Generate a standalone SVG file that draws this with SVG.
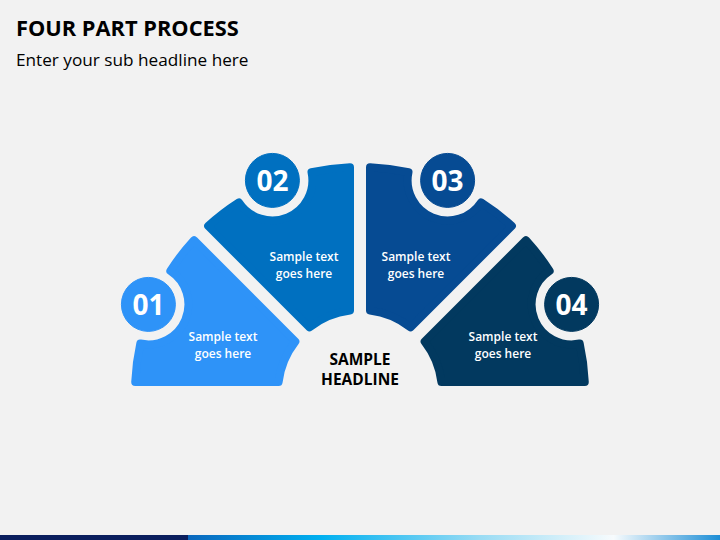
<svg xmlns="http://www.w3.org/2000/svg" width="720" height="540" viewBox="0 0 720 540">
  <defs>
    <linearGradient id="barGrad" x1="0" y1="0" x2="1" y2="0">
      <stop offset="0" stop-color="#0A67BD"/>
      <stop offset="0.25" stop-color="#00B0F0"/>
      <stop offset="0.55" stop-color="#9ADCF4"/>
      <stop offset="0.8" stop-color="#F7FBFD"/>
      <stop offset="1" stop-color="#1C8ED6"/>
    </linearGradient>
    <style>
      .title { font-family: "Open Sans", "Liberation Sans", sans-serif; font-weight: 700; font-size: 21.8px; fill: #000000; }
      .sub { font-family: "Open Sans", "Liberation Sans", sans-serif; font-weight: 400; font-size: 17.2px; fill: #000000; }
      .seg { stroke-width: 8; stroke-linejoin: round; }
      .num { font-family: "Open Sans", "Liberation Sans", sans-serif; font-weight: 700; font-size: 28px; fill: #FFFFFF; text-anchor: middle; }
      .body { font-family: "Open Sans", "Liberation Sans", sans-serif; font-weight: 600; font-size: 12px; fill: #FFFFFF; text-anchor: middle; }
      .head { font-family: "Open Sans", "Liberation Sans", sans-serif; font-weight: 700; font-size: 15.5px; fill: #000000; text-anchor: middle; }
      .c1 { fill: #2E93F8; stroke: #2E93F8; }
      .c2 { fill: #0070C0; stroke: #0070C0; }
      .c3 { fill: #064B93; stroke: #064B93; }
      .c4 { fill: #02395F; stroke: #02395F; }
    </style>
  </defs>

  <rect x="0" y="0" width="720" height="540" fill="#F2F2F2"/>

  <g id="header">
    <text class="title" x="16" y="36">FOUR PART PROCESS</text>
    <text class="sub" x="16" y="66">Enter your sub headline here</text>
  </g>

  <g id="connectors"></g>

  <g id="part1">
    <path class="seg c1" d="M 278.61 382 L 135.22 382 A 225 225 0 0 1 140.28 343.52 A 40 40 0 0 0 170.36 270.92 A 225 225 0 0 1 193.99 240.13 L 295.38 341.52 A 82 82 0 0 0 278.61 382 Z"/>
    <circle class="c1" cx="148.4" cy="304.4" r="27" stroke="none"/>
    <text class="num" x="148.4" y="314.5">01</text>
    <text class="body" x="223" y="341">Sample text</text>
    <text class="body" x="223" y="358">goes here</text>
  </g>

  <g id="part2">
    <path class="seg c2" d="M 350 310.61 L 350 167.22 A 225 225 0 0 0 311.52 172.28 A 40 40 0 0 1 238.92 202.36 A 225 225 0 0 0 208.13 225.99 L 309.52 327.38 A 82 82 0 0 1 350 310.61 Z"/>
    <circle class="c2" cx="272.4" cy="180.4" r="27" stroke="none"/>
    <text class="num" x="272.4" y="190.5">02</text>
    <text class="body" x="304" y="261">Sample text</text>
    <text class="body" x="304" y="278">goes here</text>
  </g>

  <g id="part3">
    <path class="seg c3" d="M 370 310.61 L 370 167.22 A 225 225 0 0 1 408.48 172.28 A 40 40 0 0 0 481.08 202.36 A 225 225 0 0 1 511.87 225.99 L 410.48 327.38 A 82 82 0 0 0 370 310.61 Z"/>
    <circle class="c3" cx="447.6" cy="180.4" r="27" stroke="none"/>
    <text class="num" x="447.6" y="190.5">03</text>
    <text class="body" x="416" y="261">Sample text</text>
    <text class="body" x="416" y="278">goes here</text>
  </g>

  <g id="part4">
    <path class="seg c4" d="M 441.39 382 L 584.78 382 A 225 225 0 0 0 579.72 343.52 A 40 40 0 0 1 549.64 270.92 A 225 225 0 0 0 526.01 240.13 L 424.62 341.52 A 82 82 0 0 1 441.39 382 Z"/>
    <circle class="c4" cx="571.6" cy="304.4" r="27" stroke="none"/>
    <text class="num" x="571.6" y="314.5">04</text>
    <text class="body" x="503" y="341">Sample text</text>
    <text class="body" x="503" y="358">goes here</text>
  </g>

  <g id="center-headline">
    <text class="head" x="360" y="365">SAMPLE</text>
    <text class="head" x="360" y="385">HEADLINE</text>
  </g>

  <g id="footer-bar">
    <rect x="0" y="535" width="188" height="5" fill="#0B1F5E"/>
    <rect x="188" y="535" width="532" height="5" fill="url(#barGrad)"/>
  </g>
</svg>
